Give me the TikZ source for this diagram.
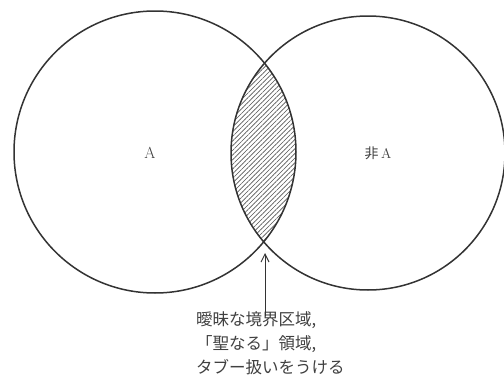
\documentclass[tikz,border=0pt]{standalone}
\usepackage{fontspec}
\newfontfamily\jpfont{Noto Sans CJK JP}
\usetikzlibrary{arrows.meta,patterns.meta}
\definecolor{ink}{HTML}{333333}
\definecolor{hatch}{HTML}{555555}
\definecolor{txt}{HTML}{404040}
\tikzset{
  setcircle/.style={circle, draw=ink, line width=1.5pt, inner sep=0pt},
  label/.style={text=txt, inner sep=0pt},
  jptext/.style={text=txt, inner sep=0pt, anchor=west, font=\jpfont\fontsize{16.5}{20}\selectfont, text height=0.88em, text depth=0.12em},
  pointer/.style={draw=ink, line width=1pt, -{Straight Barb[length=8pt,width=8pt,line width=1pt]}}
}
\begin{document}
\begin{tikzpicture}[x=1pt,y=-1pt]
\useasboundingbox (0,0) rectangle (504,383);
\fill[white] (0,0) rectangle (504,383);
\coordinate (cl) at (155,152);
\coordinate (cr) at (368,153);
% hatched lens
\begin{scope}
  \clip (cl) circle[radius=141pt];
  \fill[pattern={Lines[angle=45,distance=3.3pt,line width=0.6pt]}, pattern color=hatch] (cr) circle[radius=137pt];
\end{scope}
\node[setcircle, minimum size=282pt] (L) at (cl) {};
\node[setcircle, minimum size=274pt] (R) at (cr) {};
\node[label, font=\rmfamily\fontsize{16}{19}\selectfont] (la) at (150,153) {A};
\node[label, font=\fontsize{14}{17}\selectfont] (lna) at (378,153) {{\jpfont 非}\,A};
\node[jptext] (t1) at (196,321.5) {曖昧な境界区域,};
\node[jptext] (t2) at (196,346) {「聖なる」領域,};
\node[jptext] (t3) at (196,370) {タブー扱いをうける};
\coordinate (tip) at (265,253);
\draw[pointer] (t1.north -| tip) -- (tip);
\end{tikzpicture}
\end{document}
